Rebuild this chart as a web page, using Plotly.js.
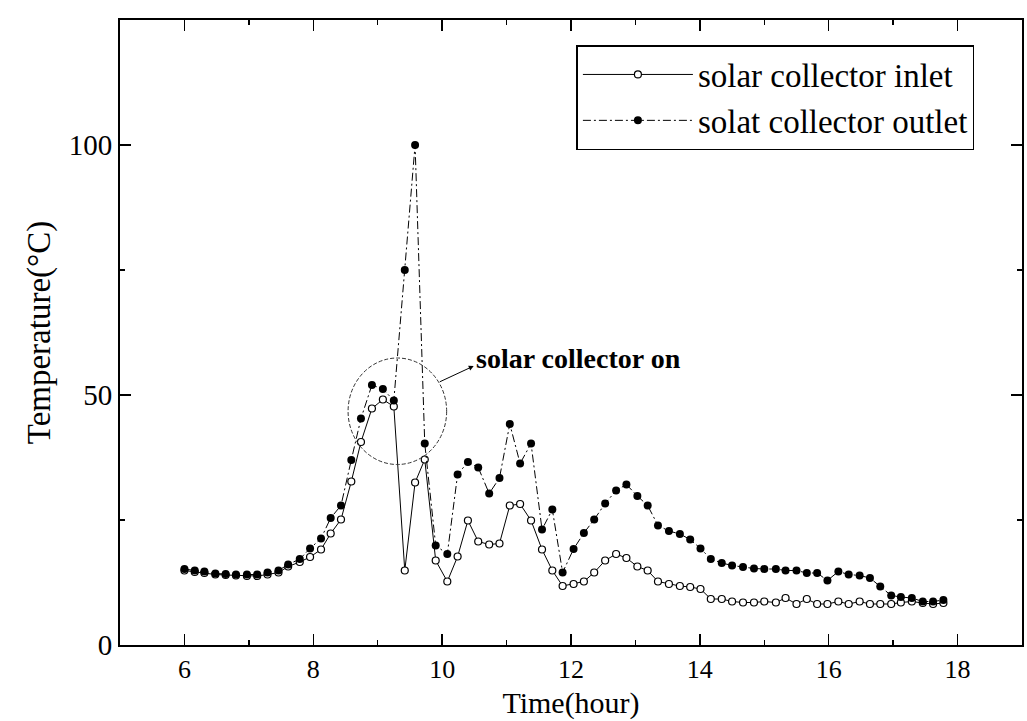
<!DOCTYPE html>
<html>
<head>
<meta charset="utf-8">
<script src="https://cdn.plot.ly/plotly-3.0.1.min.js"></script>
<style>
  html, body { margin: 0; padding: 0; background: #fff; }
  #chart { width: 1027px; height: 721px; }
</style>
</head>
<body>
<div id="chart"></div>
<script>
// Time of day (hour) of each sample
const timeHours = [
  6.00, 6.16, 6.31, 6.48, 6.64, 6.80, 6.97, 7.13, 7.29, 7.46,
  7.61, 7.79, 7.95, 8.12, 8.27, 8.43, 8.59, 8.74, 8.91, 9.08,
  9.25, 9.42, 9.58, 9.73, 9.90, 10.08, 10.24, 10.40, 10.56, 10.73,
  10.89, 11.05, 11.21, 11.38, 11.55, 11.71, 11.87, 12.04, 12.20, 12.36,
  12.53, 12.70, 12.86, 13.03, 13.19, 13.35, 13.52, 13.69, 13.85, 14.01,
  14.17, 14.34, 14.50, 14.67, 14.84, 15.00, 15.18, 15.33, 15.50, 15.66,
  15.82, 15.98, 16.15, 16.31, 16.48, 16.64, 16.80, 16.97, 17.12, 17.29,
  17.46, 17.62, 17.78
];

// Solar collector inlet temperature (°C)
const inletTemp = [
  14.9, 14.6, 14.4, 14.1, 14.0, 13.9, 13.8, 13.8, 14.1, 14.5,
  15.7, 16.6, 17.6, 19.1, 22.3, 25.1, 32.7, 40.6, 47.3, 49.1,
  47.7, 14.9, 32.5, 37.1, 16.9, 12.7, 17.7, 24.9, 20.7, 20.1,
  20.3, 27.9, 28.2, 24.9, 19.1, 14.9, 11.8, 12.2, 12.7, 14.5,
  16.9, 18.2, 17.4, 15.7, 14.9, 12.7, 12.2, 11.8, 11.6, 11.2,
  9.2, 9.2, 8.7, 8.5, 8.5, 8.7, 8.5, 9.4, 8.2, 9.2,
  8.2, 8.2, 8.7, 8.2, 8.7, 8.2, 8.2, 8.2, 8.5, 8.7,
  8.4, 8.2, 8.4
];

// Solar collector outlet temperature (°C)
const outletTemp = [
  15.2, 14.9, 14.7, 14.3, 14.2, 14.1, 14.1, 14.1, 14.5, 14.9,
  16.1, 17.2, 19.3, 21.3, 25.4, 27.9, 37.0, 45.3, 52.0, 51.2,
  48.9, 75.0, 100.0, 40.3, 19.9, 18.2, 34.1, 36.6, 35.5, 30.3,
  33.4, 44.2, 36.3, 40.3, 23.1, 27.1, 14.5, 19.2, 22.4, 25.1,
  28.3, 30.9, 32.1, 29.8, 27.9, 23.9, 22.8, 22.2, 21.1, 19.3,
  17.2, 16.4, 15.9, 15.6, 15.3, 15.2, 15.2, 14.9, 14.9, 14.4,
  14.4, 12.9, 14.7, 14.1, 13.9, 13.4, 11.7, 9.9, 9.6, 9.4,
  8.7, 8.7, 9.0
];

const seriesNames = ["solar collector inlet", "solat collector outlet"];
const xTickVals = [6, 8, 10, 12, 14, 16, 18];
const yTickVals = [0, 50, 100];

const serif = "Liberation Serif, Times New Roman, serif";

const traces = [
  {
    x: timeHours, y: inletTemp, name: seriesNames[0],
    type: "scatter", mode: "lines+markers",
    line: { color: "#000", width: 1 },
    marker: { symbol: "circle", size: 7, color: "#fff", line: { color: "#000", width: 1.2 } }
  },
  {
    x: timeHours, y: outletTemp, name: seriesNames[1],
    type: "scatter", mode: "lines+markers",
    line: { color: "#000", width: 1, dash: "8px,3px,2px,3px" },
    marker: { symbol: "circle", size: 8, color: "#000", line: { color: "#000", width: 0 } }
  }
];

const axisCommon = {
  showgrid: false, zeroline: false,
  showline: true, linecolor: "#000", linewidth: 2,
  mirror: "ticks", ticks: "inside", ticklen: 11, tickwidth: 1.5, tickcolor: "#000",
  tickfont: { family: serif, size: 29, color: "#000" }
};

const layout = {
  width: 1027, height: 721,
  margin: { l: 120, r: 5, t: 20, b: 76 },
  paper_bgcolor: "#fff", plot_bgcolor: "#fff",
  showlegend: true,
  legend: {
    x: 0.506, y: 0.96, xanchor: "left", yanchor: "top",
    bgcolor: "#fff", bordercolor: "#000", borderwidth: 1.5,
    font: { family: serif, size: 33, color: "#000" },
    itemwidth: 110, tracegroupgap: 0
  },
  xaxis: Object.assign({}, axisCommon, {
    range: [5, 19], tickvals: xTickVals,
    tickfont: { family: serif, size: 26, color: "#000" },
    minor: { dtick: 1, tick0: 5, ticks: "inside", ticklen: 5, tickcolor: "#000", tickwidth: 1.5 },
    title: { text: "Time(hour)", font: { family: serif, size: 30, color: "#000" }, standoff: 9 }
  }),
  yaxis: Object.assign({}, axisCommon, {
    range: [0, 125], tickvals: yTickVals,
    minor: { dtick: 25, tick0: 0, ticks: "inside", ticklen: 5, tickcolor: "#000", tickwidth: 1.5 },
    title: { text: "Temperature(°C)", font: { family: serif, size: 33, color: "#000" }, standoff: 8 }
  }),
  shapes: [
    {
      type: "circle", xref: "x", yref: "y",
      x0: 8.54, x1: 10.07, y0: 36.1, y1: 57.4,
      line: { color: "#333", width: 1, dash: "4px,2px" }
    }
  ],
  annotations: [
    {
      x: 10.49, y: 55.8, xref: "x", yref: "y",
      ax: 9.94, ay: 52.5, axref: "x", ayref: "y",
      text: "", showarrow: true,
      arrowhead: 2, arrowsize: 1, arrowwidth: 1, arrowcolor: "#000", standoff: 0
    },
    {
      x: 10.5, y: 57.3, xref: "x", yref: "y",
      xanchor: "left", yanchor: "middle", showarrow: false,
      text: "<b>solar collector on</b>",
      font: { family: serif, size: 28, color: "#000" }
    }
  ]
};

Plotly.newPlot("chart", traces, layout, { displayModeBar: false, staticPlot: true });
</script>
</body>
</html>
